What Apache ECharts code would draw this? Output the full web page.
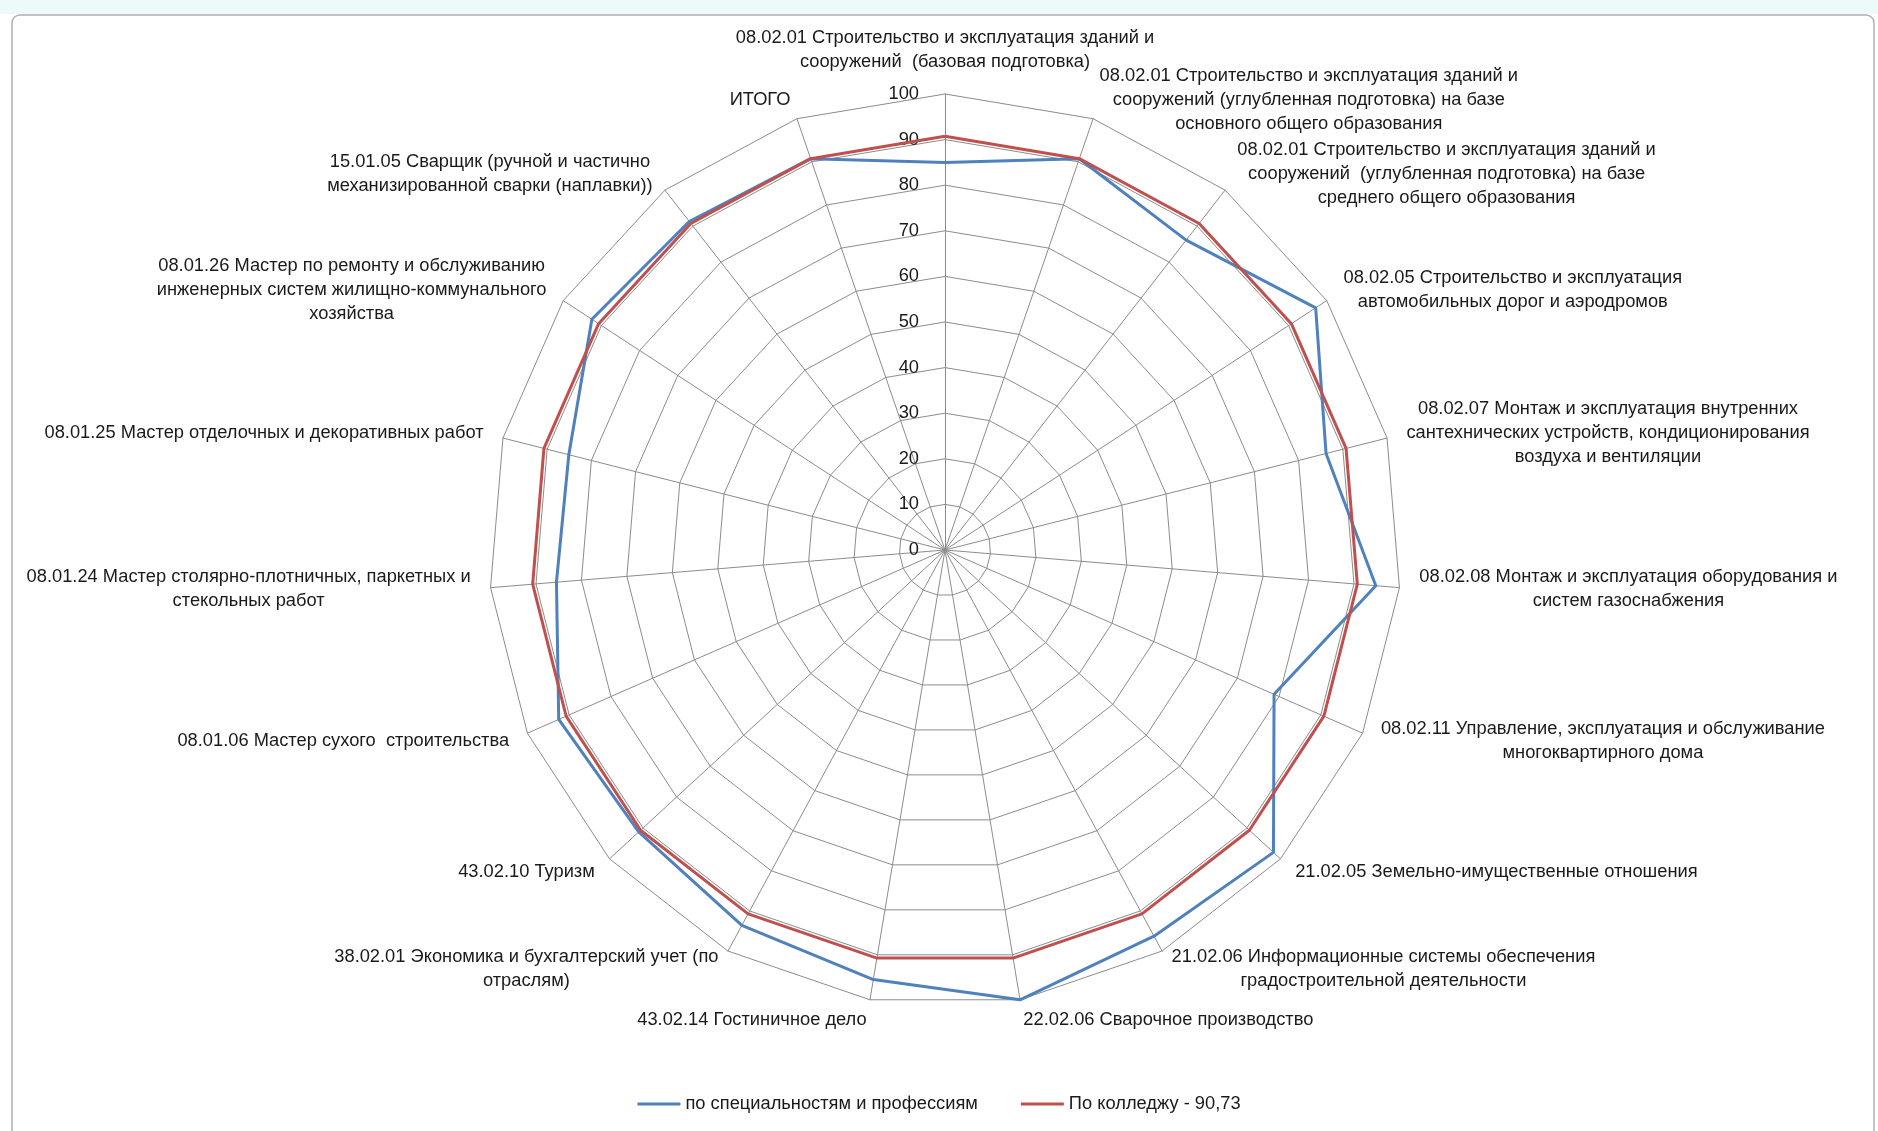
<!DOCTYPE html>
<html>
<head>
<meta charset="utf-8">
<script src="https://cdn.jsdelivr.net/npm/echarts@6/dist/echarts.min.js"></script>
<style>
  html, body { margin: 0; padding: 0; background: #fff; }
  #chart { width: 1878px; height: 1131px; }
</style>
</head>
<body>
<div id="chart"></div>
<script>
  // категории по часовой стрелке, начиная сверху
  const categories = [
    '08.02.01 Строительство и эксплуатация зданий и\nсооружений  (базовая подготовка)',
    '08.02.01 Строительство и эксплуатация зданий и\nсооружений (углубленная подготовка) на базе\nосновного общего образования',
    '08.02.01 Строительство и эксплуатация зданий и\nсооружений  (углубленная подготовка) на базе\nсреднего общего образования',
    '08.02.05 Строительство и эксплуатация\nавтомобильных дорог и аэродромов',
    '08.02.07 Монтаж и эксплуатация внутренних\nсантехнических устройств, кондиционирования\nвоздуха и вентиляции',
    '08.02.08 Монтаж и эксплуатация оборудования и\nсистем газоснабжения',
    '08.02.11 Управление, эксплуатация и обслуживание\nмногоквартирного дома',
    '21.02.05 Земельно-имущественные отношения',
    '21.02.06 Информационные системы обеспечения\nградостроительной деятельности',
    '22.02.06 Сварочное производство',
    '43.02.14 Гостиничное дело',
    '38.02.01 Экономика и бухгалтерский учет (по\nотраслям)',
    '43.02.10 Туризм',
    '08.01.06 Мастер сухого  строительства',
    '08.01.24 Мастер столярно-плотничных, паркетных и\nстекольных работ',
    '08.01.25 Мастер отделочных и декоративных работ',
    '08.01.26 Мастер по ремонту и обслуживанию\nинженерных систем жилищно-коммунального\nхозяйства',
    '15.01.05 Сварщик (ручной и частично\nмеханизированной сварки (наплавки))',
    'ИТОГО'
  ];
  const bySpecialty = [85.0, 90.7, 86.1, 97.1, 86.2, 94.8, 78.8, 97.9, 96.3, 100, 95.5, 93.6, 91.3, 92.5, 85.5, 85.1, 92.5, 91.3, 90.73];
  const byCollege = [90.73, 90.73, 90.73, 90.73, 90.73, 90.73, 90.73, 90.73, 90.73, 90.73, 90.73, 90.73, 90.73, 90.73, 90.73, 90.73, 90.73, 90.73, 90.73];
  const radialTicks = [0, 10, 20, 30, 40, 50, 60, 70, 80, 90, 100];
  const seriesNames = ['по специальностям и профессиям', 'По колледжу - 90,73'];

  const FONT = '"Liberation Sans Narrow", "Liberation Sans", sans-serif';
  const FONT_SIZE = 18.3;
  const TEXT_COLOR = '#1a1a1a';
  const GRID_COLOR = '#8c8c8c';
  const CENTER = [945, 550];
  const RADIUS = 456;

  // radar в echarts идёт против часовой стрелки — переставляем
  const order = [0].concat(categories.map((_, i) => i).slice(1).reverse());
  const pick = (arr) => order.map((i) => arr[i]);

  const chart = echarts.init(document.getElementById('chart'));

  const option = {
    backgroundColor: '#fff',
    animation: false,
    graphic: [
      { type: 'rect', shape: { x: 0, y: 0, width: 1878, height: 14 }, style: { fill: '#eef9fa' }, silent: true },
      { type: 'rect', shape: { x: 12, y: 15, width: 1862, height: 1130, r: 8 }, style: { fill: 'none', stroke: '#b0b0b0', lineWidth: 1.5 }, silent: true }
    ],
    legend: {
      data: seriesNames,
      left: 'center',
      top: 1090,
      icon: 'rect',
      itemWidth: 43,
      itemHeight: 3,
      itemGap: 43,
      textStyle: { color: TEXT_COLOR, fontSize: FONT_SIZE, fontFamily: FONT }
    },
    radar: {
      center: CENTER,
      radius: RADIUS,
      startAngle: 90,
      splitNumber: 10,
      shape: 'polygon',
      nameGap: 20,
      indicator: order.map((i) => ({ name: categories[i], min: 0, max: 100 })),
      axisName: {
        color: TEXT_COLOR,
        fontFamily: FONT,
        fontSize: FONT_SIZE,
        lineHeight: 24,
        formatter: (name) => name.split('\n').map((s) => `{c|${s}}`).join('\n'),
        rich: {
          c: { align: 'center', fontFamily: FONT, fontSize: FONT_SIZE, lineHeight: 24, color: TEXT_COLOR }
        }
      },
      axisLine: { lineStyle: { color: GRID_COLOR, width: 1 } },
      splitLine: { lineStyle: { color: GRID_COLOR, width: 1 } },
      splitArea: { show: false },
      axisTick: { show: false },
      axisLabel: { show: false }
    },
    // полярная ось только ради подписей 0..100 на верхнем луче
    polar: { center: CENTER, radius: RADIUS },
    angleAxis: { show: false, type: 'value', min: 0, max: 360 },
    radiusAxis: {
      type: 'value',
      min: radialTicks[0],
      max: radialTicks[radialTicks.length - 1],
      interval: radialTicks[1] - radialTicks[0],
      axisLine: { show: false },
      axisTick: { show: false },
      splitLine: { show: false },
      splitArea: { show: false },
      axisLabel: { margin: 26, color: TEXT_COLOR, fontSize: FONT_SIZE, fontFamily: FONT }
    },
    series: [
      {
        name: seriesNames[0],
        type: 'radar',
        symbol: 'none',
        lineStyle: { color: '#4F81BD', width: 3 },
        itemStyle: { color: '#4F81BD' },
        data: [{ name: seriesNames[0], value: pick(bySpecialty) }]
      },
      {
        name: seriesNames[1],
        type: 'radar',
        symbol: 'none',
        lineStyle: { color: '#C0504D', width: 3 },
        itemStyle: { color: '#C0504D' },
        data: [{ name: seriesNames[1], value: pick(byCollege) }]
      }
    ]
  };

  chart.setOption(option);
</script>
</body>
</html>
